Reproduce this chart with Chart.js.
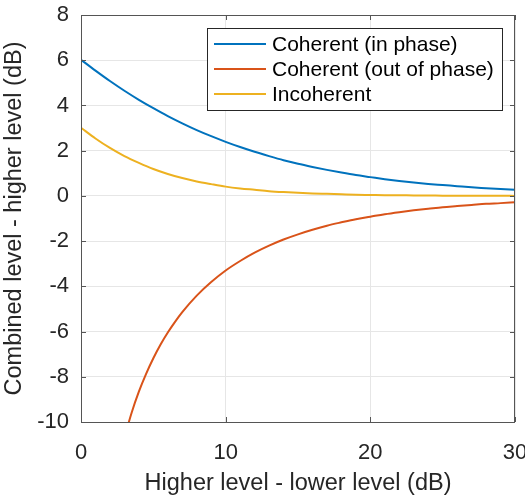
<!DOCTYPE html>
<html>
<head>
<meta charset="utf-8">
<script src="https://cdn.jsdelivr.net/npm/chart.js@4"></script>
<style>
html, body { margin: 0; padding: 0; background: #fff; }
#wrap { width: 525px; height: 498px; }
</style>
</head>
<body>
<div id="wrap"><canvas id="chart" width="525" height="498"></canvas></div>
<script>
// Level difference (dB) and resulting combined-level offsets
const levelDiff = [0, 1, 2, 3, 4, 5, 6, 7, 8, 9, 10, 11, 12, 13, 14, 15,
  16, 17, 18, 19, 20, 21, 22, 23, 24, 25, 26, 27, 28, 29, 30];
const inPhase = [6.02, 5.54, 5.08, 4.65, 4.25, 3.88, 3.53, 3.21, 2.91, 2.64, 2.39,
  2.16, 1.95, 1.76, 1.58, 1.42, 1.28, 1.15, 1.03, 0.92, 0.83,
  0.74, 0.66, 0.59, 0.53, 0.48, 0.43, 0.38, 0.34, 0.30, 0.27];
const incoherent = [3.01, 2.54, 2.12, 1.76, 1.46, 1.19, 0.97, 0.79, 0.64, 0.52, 0.41,
  0.33, 0.27, 0.21, 0.17, 0.14, 0.11, 0.09, 0.07, 0.05, 0.04,
  0.03, 0.03, 0.02, 0.02, 0.01, 0.01, 0.01, 0.01, 0.01, 0.00];
const outDiff = [3, 3.5, 4, 4.5, 5, 5.5, 6, 6.5, 7, 8, 9, 10, 11, 12, 13, 14, 15,
  16, 17, 18, 19, 20, 21, 22, 23, 24, 25, 26, 27, 28, 29, 30];
const outPhase = [-10.69, -9.59, -8.66, -7.87, -7.18, -6.57, -6.04, -5.57, -5.14,
  -4.41, -3.81, -3.30, -2.88, -2.51, -2.20, -1.93, -1.70, -1.50, -1.32, -1.17,
  -1.03, -0.92, -0.81, -0.72, -0.64, -0.57, -0.50, -0.45, -0.40, -0.35, -0.32, -0.28];

const seriesNames = ['Coherent (in phase)', 'Coherent (out of phase)', 'Incoherent'];
const seriesColors = ['#0072BD', '#D95319', '#EDB120'];

const xTicks = [0, 10, 20, 30];
const yTicks = [-10, -8, -6, -4, -2, 0, 2, 4, 6, 8];

const FONT = '"Liberation Sans", Arial, Helvetica, sans-serif';
const AXIS_COLOR = '#555555';
const TEXT_COLOR = '#262626';

function pairs(xs, ys) {
  return xs.map((x, i) => ({ x: x, y: ys[i] }));
}

// box round the plot plus the small inward tick marks, matlab style
const boxPlugin = {
  id: 'box',
  afterDatasetsDraw(chart) {
    const { ctx, chartArea: a, scales } = chart;
    ctx.save();
    ctx.strokeStyle = AXIS_COLOR;
    ctx.lineWidth = 1;
    ctx.strokeRect(a.left + 0.5, a.top + 0.5, a.right - a.left - 1, a.bottom - a.top);
    ctx.beginPath();
    yTicks.forEach(v => {
      const y = Math.round(scales.y.getPixelForValue(v)) + 0.5;
      ctx.moveTo(a.left, y); ctx.lineTo(a.left + 5, y);
      ctx.moveTo(a.right - 5, y); ctx.lineTo(a.right, y);
    });
    xTicks.forEach(v => {
      const x = Math.round(scales.x.getPixelForValue(v)) + 0.5;
      ctx.moveTo(x, a.bottom); ctx.lineTo(x, a.bottom - 5);
      ctx.moveTo(x, a.top); ctx.lineTo(x, a.top + 5);
    });
    ctx.stroke();
    ctx.restore();
  }
};

// legend drawn inside the plot, upper right
const legendPlugin = {
  id: 'insideLegend',
  afterDraw(chart) {
    const ctx = chart.ctx;
    const bx = 207, by = 28, bw = 295, bh = 82;
    ctx.save();
    ctx.fillStyle = '#ffffff';
    ctx.fillRect(bx, by, bw, bh);
    ctx.strokeStyle = '#262626';
    ctx.lineWidth = 1;
    ctx.strokeRect(bx + 0.5, by + 0.5, bw, bh);
    ctx.font = '21px ' + FONT;
    ctx.textBaseline = 'middle';
    seriesNames.forEach((name, i) => {
      const y = by + 16 + i * 25;
      ctx.strokeStyle = seriesColors[i];
      ctx.lineWidth = 2;
      ctx.beginPath();
      ctx.moveTo(214, y);
      ctx.lineTo(266, y);
      ctx.stroke();
      ctx.fillStyle = '#000000';
      ctx.fillText(name, 272, y + 1);
    });
    ctx.restore();
  }
};

const datasets = [
  { label: seriesNames[0], data: pairs(levelDiff, inPhase) },
  { label: seriesNames[1], data: pairs(outDiff, outPhase) },
  { label: seriesNames[2], data: pairs(levelDiff, incoherent) }
].map((d, i) => Object.assign(d, {
  borderColor: seriesColors[i],
  borderWidth: 2,
  pointRadius: 0,
  fill: false,
  cubicInterpolationMode: 'monotone'
}));

new Chart(document.getElementById('chart'), {
  type: 'line',
  data: { datasets },
  options: {
    responsive: false,
    animation: false,
    layout: { padding: { top: 15, right: 10, left: 0, bottom: 0 } },
    plugins: {
      legend: { display: false },
      tooltip: { enabled: false }
    },
    scales: {
      x: {
        type: 'linear',
        min: 0,
        max: 30,
        afterBuildTicks: s => { s.ticks = xTicks.map(v => ({ value: v })); },
        afterFit: s => { s.height = 76; s.paddingLeft = 0; s.paddingRight = 0; },
        grid: { color: '#e6e6e6', drawTicks: false },
        border: { display: false },
        ticks: { color: TEXT_COLOR, font: { family: FONT, size: 22 }, padding: 18, maxRotation: 0 },
        title: {
          display: true,
          text: 'Higher level - lower level (dB)',
          color: TEXT_COLOR,
          font: { family: FONT, size: 23.5 },
          padding: { top: 4, bottom: 0 }
        }
      },
      y: {
        min: -10,
        max: 8,
        afterBuildTicks: s => { s.ticks = yTicks.map(v => ({ value: v })); },
        afterFit: s => { s.width = 81; s.paddingTop = 0; s.paddingBottom = 0; },
        grid: { color: '#e6e6e6', drawTicks: false },
        border: { display: false },
        ticks: { color: TEXT_COLOR, font: { family: FONT, size: 22 }, padding: 12 },
        title: {
          display: true,
          text: 'Combined level - higher level (dB)',
          color: TEXT_COLOR,
          font: { family: FONT, size: 23.5 },
          padding: { top: 0, bottom: 0 }
        }
      }
    }
  },
  plugins: [boxPlugin, legendPlugin]
});
</script>
</body>
</html>
